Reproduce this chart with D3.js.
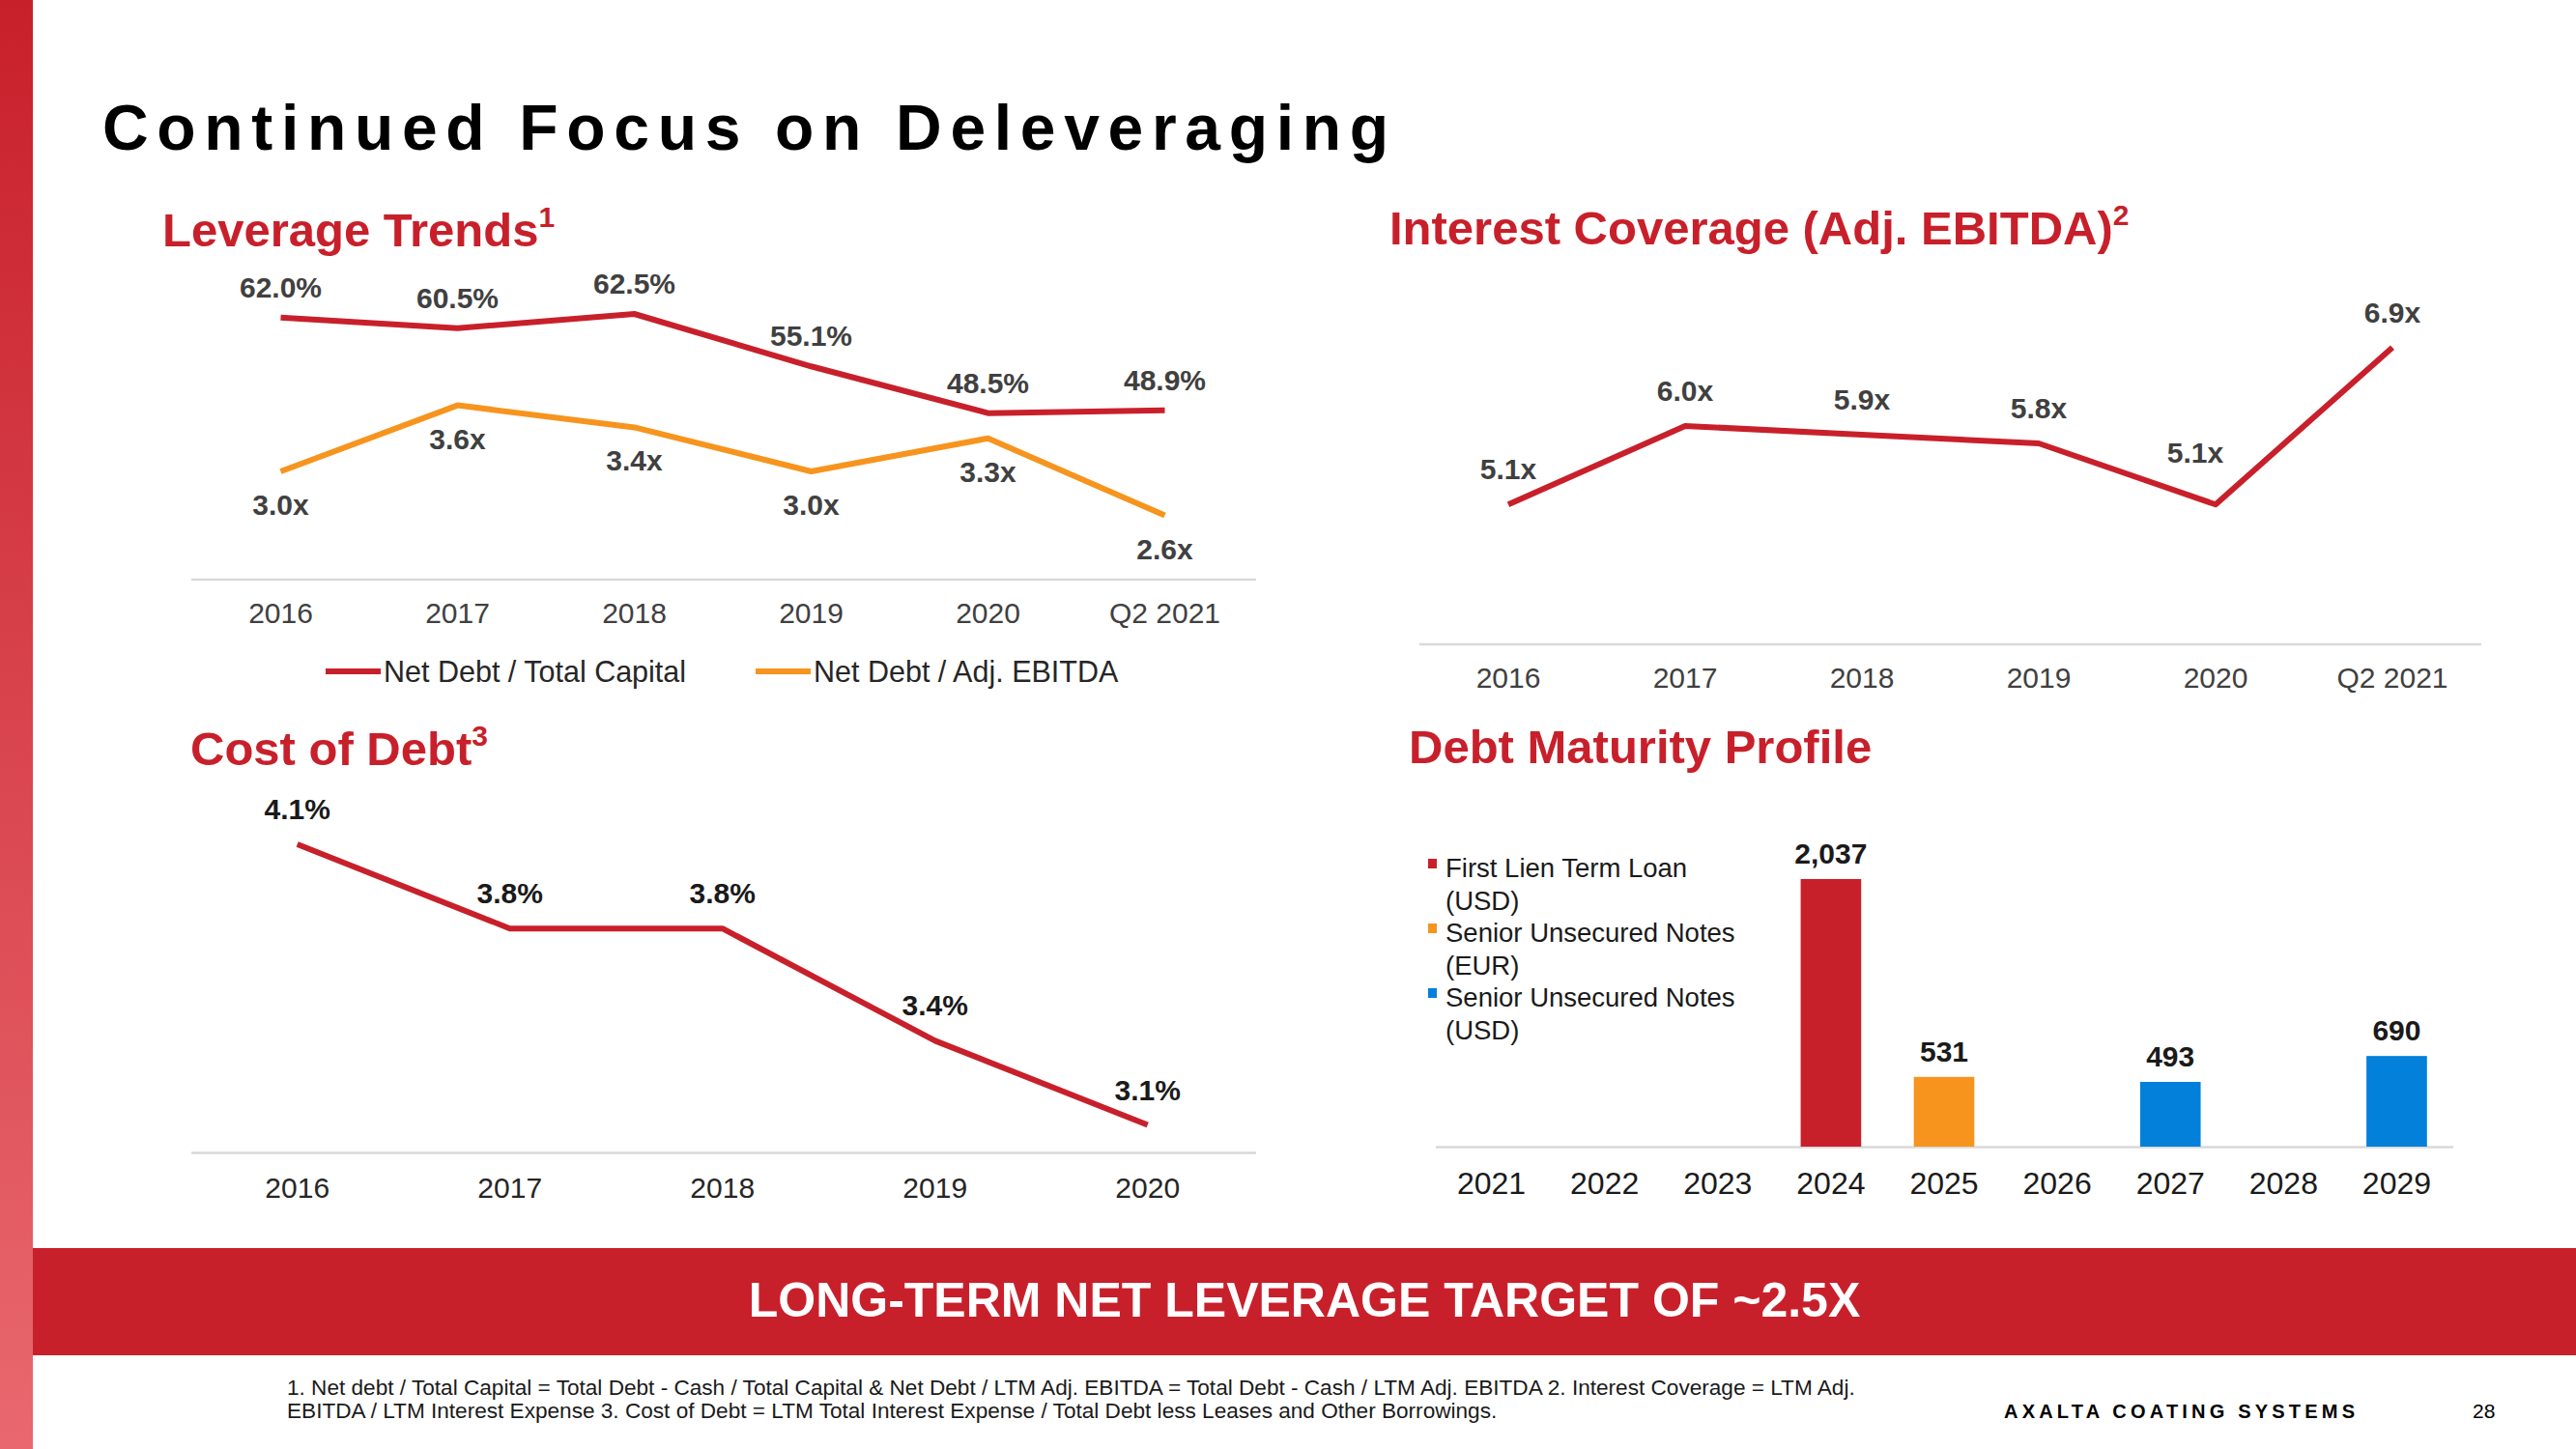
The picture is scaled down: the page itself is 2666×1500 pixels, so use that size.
<!DOCTYPE html>
<html>
<head>
<meta charset="utf-8">
<script src="https://cdn.jsdelivr.net/npm/d3@7/dist/d3.min.js"></script>
<style>
  html, body { margin: 0; padding: 0; background: #ffffff; }
  svg { display: block; font-family: "Liberation Sans", Arial, sans-serif; }
</style>
</head>
<body>
<svg id="chart" width="2666" height="1500"></svg>
<script>
// ---------------- DATA ----------------
const levCategories = ["2016", "2017", "2018", "2019", "2020", "Q2 2021"];
const netDebtTotalCapital = [62.0, 60.5, 62.5, 55.1, 48.5, 48.9];
const netDebtAdjEbitda = [3.0, 3.6, 3.4, 3.0, 3.3, 2.6];
const levSeriesNames = ["Net Debt / Total Capital", "Net Debt / Adj. EBITDA"];

const intCategories = ["2016", "2017", "2018", "2019", "2020", "Q2 2021"];
const interestCoverage = [5.1, 6.0, 5.9, 5.8, 5.1, 6.9];

const costCategories = ["2016", "2017", "2018", "2019", "2020"];
const costOfDebt = [4.1, 3.8, 3.8, 3.4, 3.1];

const debtYears = ["2021", "2022", "2023", "2024", "2025", "2026", "2027", "2028", "2029"];
const firstLienUsd = [0, 0, 0, 2037, 0, 0, 0, 0, 0];
const seniorNotesEur = [0, 0, 0, 0, 531, 0, 0, 0, 0];
const seniorNotesUsd = [0, 0, 0, 0, 0, 0, 493, 0, 690];
const debtSeriesNames = [["First Lien Term Loan", "(USD)"], ["Senior Unsecured Notes", "(EUR)"], ["Senior Unsecured Notes", "(USD)"]];

// ---------------- STYLE ----------------
const RED = "#C8202B", ORANGE = "#F7941E", BLUE = "#0280DA";
const GRAY_TXT = "#404040", DARK_TXT = "#1a1a1a", AXIS_COL = "#d9d9d9";

const svg = d3.select("#chart");

// left stripe gradient
const defs = svg.append("defs");
const grad = defs.append("linearGradient").attr("id", "stripe").attr("x1", 0).attr("y1", 0).attr("x2", 0).attr("y2", 1);
grad.append("stop").attr("offset", "0%").attr("stop-color", "#C8202B");
grad.append("stop").attr("offset", "100%").attr("stop-color", "#E9686F");
svg.append("rect").attr("x", 0).attr("y", 0).attr("width", 34).attr("height", 1500).attr("fill", "url(#stripe)");

// main title
svg.append("text").attr("x", 106).attr("y", 155)
  .attr("font-size", 66).attr("font-weight", "bold").attr("fill", "#000")
  .attr("textLength", 1331).attr("lengthAdjust", "spacing")
  .text("Continued Focus on Deleveraging");

function sectionTitle(x, y, txt, sup) {
  const t = svg.append("text").attr("x", x).attr("y", y)
    .attr("font-size", 49).attr("font-weight", "bold").attr("fill", RED);
  t.append("tspan").text(txt);
  if (sup) t.append("tspan").attr("font-size", 30).attr("dy", -20).text(sup);
}
sectionTitle(168, 255, "Leverage Trends", "1");
sectionTitle(1438, 253, "Interest Coverage (Adj. EBITDA)", "2");
sectionTitle(197, 792, "Cost of Debt", "3");
sectionTitle(1458, 790, "Debt Maturity Profile", null);

function drawAxis(scale, y, labelOffset, fontSize, color, lineX0, lineX1) {
  svg.append("line").attr("x1", lineX0).attr("x2", lineX1).attr("y1", y).attr("y2", y)
    .attr("stroke", AXIS_COL).attr("stroke-width", 2.5);
  const g = svg.append("g").attr("transform", `translate(0,${y})`)
    .call(d3.axisBottom(scale).tickSize(0).tickSizeOuter(0));
  g.select(".domain").remove();
  g.selectAll("text").attr("dy", null).attr("y", labelOffset)
    .attr("font-size", fontSize).attr("font-family", "Liberation Sans, Arial, sans-serif")
    .attr("fill", color);
}

// ---------------- LEVERAGE TRENDS ----------------
const xLev = d3.scaleBand(levCategories, [199, 1297]);
const yLevRed = d3.scaleLinear([25, 70], [600, 270]);
const yLevOr = d3.scaleLinear([2, 5], [602, 260]);
const cx = (s, d) => s(d) + s.bandwidth() / 2;

drawAxis(xLev, 600, 45, 30, GRAY_TXT, 198, 1300);

const lineRed = d3.line().x((d, i) => cx(xLev, levCategories[i])).y(d => yLevRed(d));
const lineOr = d3.line().x((d, i) => cx(xLev, levCategories[i])).y(d => yLevOr(d));
svg.append("path").attr("d", lineOr(netDebtAdjEbitda)).attr("fill", "none")
  .attr("stroke", ORANGE).attr("stroke-width", 6).attr("stroke-linejoin", "round");
svg.append("path").attr("d", lineRed(netDebtTotalCapital)).attr("fill", "none")
  .attr("stroke", RED).attr("stroke-width", 6).attr("stroke-linejoin", "round");

svg.append("g").selectAll("text").data(netDebtTotalCapital).join("text")
  .attr("x", (d, i) => cx(xLev, levCategories[i])).attr("y", d => yLevRed(d) - 21)
  .attr("text-anchor", "middle").attr("font-size", 30).attr("font-weight", "bold").attr("fill", GRAY_TXT)
  .text(d => d.toFixed(1) + "%");
svg.append("g").selectAll("text").data(netDebtAdjEbitda).join("text")
  .attr("x", (d, i) => cx(xLev, levCategories[i])).attr("y", d => yLevOr(d) + 45)
  .attr("text-anchor", "middle").attr("font-size", 30).attr("font-weight", "bold").attr("fill", GRAY_TXT)
  .text(d => d.toFixed(1) + "x");

// legend
const levLegend = [{ name: levSeriesNames[0], color: RED, x: 337 }, { name: levSeriesNames[1], color: ORANGE, x: 782 }];
levLegend.forEach(l => {
  svg.append("line").attr("x1", l.x).attr("x2", l.x + 57).attr("y1", 695).attr("y2", 695)
    .attr("stroke", l.color).attr("stroke-width", 6);
  svg.append("text").attr("x", l.x + 60).attr("y", 706).attr("font-size", 30.5).attr("fill", "#262626").text(l.name);
});

// ---------------- INTEREST COVERAGE ----------------
const xInt = d3.scaleBand(intCategories, [1469.5, 2567.5]);
const yInt = d3.scaleLinear([3.5, 7.5], [666.7, 305.5]);
drawAxis(xInt, 667, 45, 30, GRAY_TXT, 1469, 2568);
const lineInt = d3.line().x((d, i) => cx(xInt, intCategories[i])).y(d => yInt(d));
svg.append("path").attr("d", lineInt(interestCoverage)).attr("fill", "none")
  .attr("stroke", RED).attr("stroke-width", 6).attr("stroke-linejoin", "round");
const isDip = (arr, i) => i > 0 && i < arr.length - 1 && arr[i] < arr[i - 1] && arr[i] < arr[i + 1];
svg.append("g").selectAll("text").data(interestCoverage).join("text")
  .attr("x", (d, i) => cx(xInt, intCategories[i]) - (isDip(interestCoverage, i) ? 21 : 0))
  .attr("y", (d, i) => yInt(d) - (isDip(interestCoverage, i) ? 43 : 26))
  .attr("text-anchor", "middle").attr("font-size", 30).attr("font-weight", "bold").attr("fill", GRAY_TXT)
  .text(d => d.toFixed(1) + "x");

// ---------------- COST OF DEBT ----------------
const xCost = d3.scaleBand(costCategories, [197.7, 1297.7]);
const yCost = d3.scaleLinear([3.0, 4.2], [1193.6, 845]);
drawAxis(xCost, 1193.6, 46, 30, "#262626", 198, 1300);
const lineCost = d3.line().x((d, i) => cx(xCost, costCategories[i])).y(d => yCost(d));
svg.append("path").attr("d", lineCost(costOfDebt)).attr("fill", "none")
  .attr("stroke", RED).attr("stroke-width", 6).attr("stroke-linejoin", "round");
svg.append("g").selectAll("text").data(costOfDebt).join("text")
  .attr("x", (d, i) => cx(xCost, costCategories[i])).attr("y", d => yCost(d) - 26)
  .attr("text-anchor", "middle").attr("font-size", 30).attr("font-weight", "bold").attr("fill", DARK_TXT)
  .text(d => d.toFixed(1) + "%");

// ---------------- DEBT MATURITY PROFILE ----------------
const xDebt = d3.scaleBand(debtYears, [1485, 2539]).paddingInner(0.465).paddingOuter(0.2325);
const yDebt = d3.scaleLinear([0, 2500], [1187, 847]);
drawAxis(xDebt, 1187.5, 48, 32, DARK_TXT, 1486, 2539);
const debtSeries = [
  { values: firstLienUsd, color: RED },
  { values: seniorNotesEur, color: ORANGE },
  { values: seniorNotesUsd, color: BLUE }
];
debtSeries.forEach(s => {
  const pts = s.values.map((v, i) => ({ year: debtYears[i], v })).filter(p => p.v > 0);
  svg.append("g").selectAll("rect").data(pts).join("rect")
    .attr("x", p => xDebt(p.year)).attr("width", xDebt.bandwidth())
    .attr("y", p => yDebt(p.v)).attr("height", p => yDebt(0) - yDebt(p.v))
    .attr("fill", s.color);
  svg.append("g").selectAll("text").data(pts).join("text")
    .attr("x", p => xDebt(p.year) + xDebt.bandwidth() / 2).attr("y", p => yDebt(p.v) - 16)
    .attr("text-anchor", "middle").attr("font-size", 30).attr("font-weight", "bold").attr("fill", DARK_TXT)
    .text(p => d3.format(",")(p.v));
});
// legend
debtSeriesNames.forEach((lines, k) => {
  const base = 908 + k * 67;
  svg.append("rect").attr("x", 1478).attr("y", base - 19).attr("width", 9).attr("height", 10)
    .attr("fill", debtSeries[k].color);
  lines.forEach((ln, j) => {
    svg.append("text").attr("x", 1496).attr("y", base + j * 33.5).attr("font-size", 27.5).attr("fill", DARK_TXT).text(ln);
  });
});

// ---------------- BANNER & FOOTER ----------------
svg.append("rect").attr("x", 34).attr("y", 1292).attr("width", 2632).attr("height", 111).attr("fill", RED);
svg.append("text").attr("x", 1350).attr("y", 1363).attr("text-anchor", "middle")
  .attr("font-size", 50).attr("font-weight", "bold").attr("fill", "#fff")
  .text("LONG-TERM NET LEVERAGE TARGET OF ~2.5X");

const footLines = [
  "1. Net debt / Total Capital = Total Debt - Cash / Total Capital & Net Debt / LTM Adj. EBITDA = Total Debt - Cash / LTM Adj. EBITDA 2. Interest Coverage = LTM Adj.",
  "EBITDA / LTM Interest Expense 3. Cost of Debt = LTM Total Interest Expense / Total Debt less Leases and Other Borrowings."
];
footLines.forEach((t, i) => {
  svg.append("text").attr("x", 297).attr("y", 1444 + i * 24).attr("font-size", 22.6).attr("fill", "#1a1a1a").text(t);
});
svg.append("text").attr("x", 2074).attr("y", 1468).attr("font-size", 20).attr("font-weight", "bold")
  .attr("fill", "#000").attr("textLength", 363).attr("lengthAdjust", "spacing").text("AXALTA COATING SYSTEMS");
svg.append("text").attr("x", 2559).attr("y", 1468).attr("font-size", 21).attr("fill", "#000").text("28");
</script>
</body>
</html>
